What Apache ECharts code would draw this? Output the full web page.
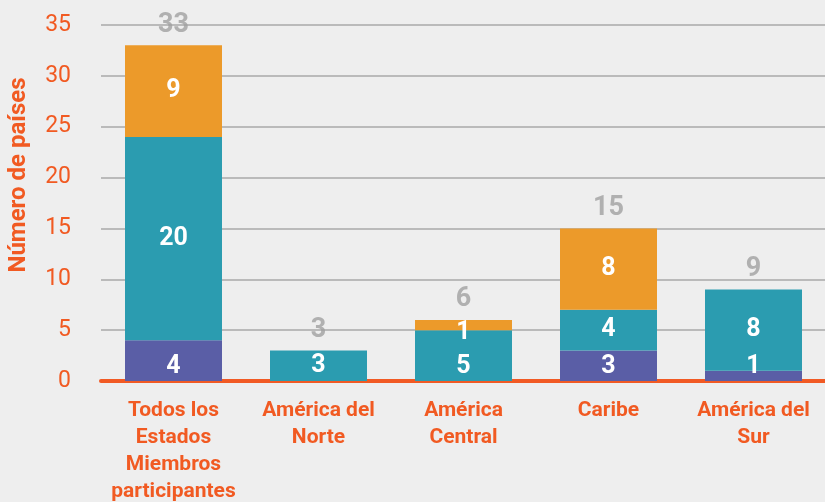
<!DOCTYPE html>
<html lang="es" style="height: 100%">
<head>
    <meta charset="UTF-8">
    <title>Número de países</title>
    <script src="https://cdn.jsdelivr.net/npm/echarts@6/dist/echarts.min.js"></script>
</head>
<body style="height: 100%; margin: 0; background: #eeeeee">
<div id="container" style="width: 825px; height: 502px"></div>
<script type="text/javascript">
    // datos
    var categorias = ['Todos los\nEstados\nMiembros\nparticipantes', 'América del\nNorte', 'América\nCentral', 'Caribe', 'América del\nSur'];
    var morado = [4, 0, 0, 3, 1];
    var azul = [20, 3, 5, 4, 8];
    var naranja = [9, 0, 1, 8, 0];
    var totales = [33, 3, 6, 15, 9];
    var ticksY = [0, 5, 10, 15, 20, 25, 30, 35];

    var fuente = 'Roboto';
    var etiqueta = {show: true, color: '#ffffff', fontSize: 25, fontWeight: 'bold', fontFamily: fuente,
        formatter: function (p) { return p.value ? p.value : ''; }};

    function datos(arr, extra) {
        return arr.map(function (v, i) {
            if (extra[i]) return {value: v, label: extra[i]};
            return v;
        });
    }

    var dom = document.getElementById('container');
    var myChart = echarts.init(dom);
    var option = {
        backgroundColor: '#eeeeee',
        animation: false,
        grid: {left: 101, right: -1, top: 25, bottom: 121, outerBoundsMode: 'none', containLabel: false},
        xAxis: {
            type: 'category',
            data: categorias,
            axisLine: {lineStyle: {color: '#f15a24', width: 4}},
            axisTick: {show: false},
            axisLabel: {color: '#f15a22', fontSize: 21, fontWeight: 'bold', fontFamily: fuente,
                lineHeight: 27, margin: 16, interval: 0}
        },
        yAxis: {
            type: 'value',
            min: ticksY[0],
            max: ticksY[ticksY.length - 1],
            interval: 5,
            name: 'Número de países',
            nameLocation: 'middle',
            nameGap: 70,
            nameTextStyle: {color: '#f15a22', fontSize: 24, fontWeight: 'bold', fontFamily: fuente,
                padding: [0, 0, 0, 56]},
            axisLine: {show: false},
            axisTick: {show: false},
            axisLabel: {color: '#f15a22', fontSize: 23, fontFamily: fuente, margin: 30},
            splitLine: {lineStyle: {color: '#a8a8a8', width: 1.5}}
        },
        series: [
            {
                name: 'morado', type: 'bar', stack: 'total', barWidth: 97,
                itemStyle: {color: '#5a5ea6'},
                label: Object.assign({}, etiqueta, {position: 'insideBottom', distance: 2}),
                data: morado
            },
            {
                name: 'azul', type: 'bar', stack: 'total',
                itemStyle: {color: '#2b9cb0'},
                label: Object.assign({}, etiqueta, {position: 'inside'}),
                data: datos(azul, {2: {position: 'insideBottom', distance: 2}})
            },
            {
                name: 'naranja', type: 'bar', stack: 'total',
                itemStyle: {color: '#ec9a2a'},
                label: Object.assign({}, etiqueta, {position: 'inside'}),
                data: datos(naranja, {2: {offset: [0, 8]}})
            },
            {
                name: 'total', type: 'scatter', symbolSize: 0,
                label: {show: true, position: 'top', distance: 7, color: '#a0a0a0', fontSize: 27,
                    fontWeight: 'bold', fontFamily: fuente},
                data: totales
            }
        ]
    };
    myChart.setOption(option);
</script>
</body>
</html>
